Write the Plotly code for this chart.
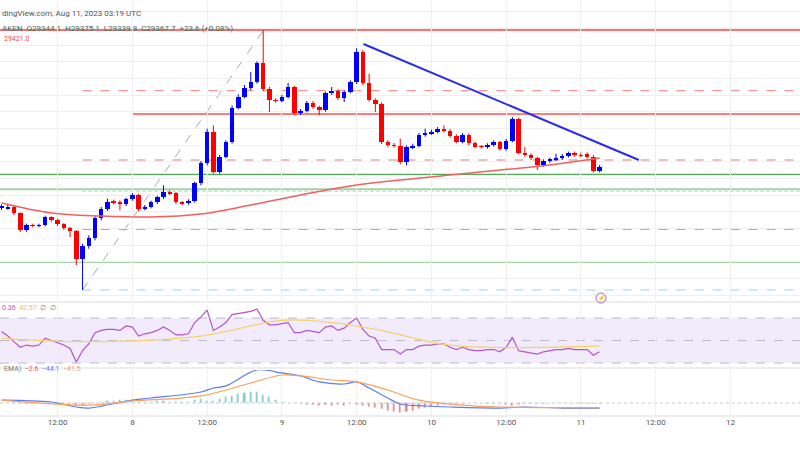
import pandas as pd
import plotly.graph_objects as go

# hourly BTC/USD candles, Aug 7 03:00 -> Aug 11 03:00 UTC
start = "2023-08-07 03:00"
opens = [28886, 28886, 28891, 28871, 28821, 28836, 28833, 28836, 28859, 28851, 28838, 28826, 28818, 28733, 28773, 28796,
         28856, 28883, 28906, 28904, 28899, 28914, 28926, 28884, 28891, 28904, 28919, 28936, 28931, 28904, 28901, 28908,
         28961, 29021, 29114, 28994, 29041, 29084, 29188, 29221, 29246, 29266, 29321, 29243, 29211, 29209, 29221, 29249,
         29171, 29179, 29203, 29189, 29181, 29231, 29238, 29216, 29236, 29264, 29356, 29261, 29211, 29199, 29084, 29076,
         29074, 29026, 29069, 29074, 29106, 29111, 29116, 29123, 29119, 29103, 29086, 29106, 29081, 29071, 29070, 29076,
         29084, 29064, 29089, 29153, 29053, 29046, 29036, 29016, 29028, 29033, 29036, 29044, 29051, 29046, 29049, 29041, 28999]
closes = [28893, 28891, 28871, 28821, 28836, 28833, 28836, 28859, 28851, 28838, 28826, 28818, 28733, 28773, 28796, 28856,
          28883, 28906, 28904, 28899, 28914, 28926, 28884, 28891, 28904, 28919, 28936, 28931, 28904, 28901, 28908, 28961,
          29021, 29114, 28994, 29041, 29084, 29188, 29221, 29246, 29266, 29321, 29243, 29211, 29209, 29221, 29249, 29171,
          29179, 29203, 29189, 29181, 29231, 29238, 29216, 29236, 29264, 29356, 29261, 29211, 29199, 29084, 29076, 29074,
          29026, 29069, 29074, 29106, 29111, 29116, 29123, 29119, 29103, 29086, 29106, 29081, 29071, 29070, 29076, 29084,
          29064, 29089, 29153, 29053, 29046, 29036, 29016, 29028, 29033, 29036, 29044, 29051, 29046, 29044, 29041, 28999, 29011]
highs = [28898, 28896, 28895, 28874, 28840, 28840, 28840, 28864, 28862, 28855, 28842, 28830, 28821, 28780, 28805, 28862,
         28890, 28915, 28912, 28910, 28918, 28932, 28930, 28896, 28909, 28924, 28955, 28940, 28935, 28908, 28913, 28966,
         29028, 29125, 29135, 29046, 29090, 29195, 29228, 29256, 29295, 29327, 29421, 29250, 29216, 29226, 29262, 29254,
         29184, 29208, 29208, 29194, 29236, 29250, 29243, 29241, 29270, 29366, 29361, 29290, 29216, 29204, 29090, 29082,
         29095, 29075, 29080, 29112, 29125, 29122, 29130, 29135, 29124, 29108, 29112, 29111, 29086, 29076, 29081, 29090,
         29089, 29094, 29160, 29158, 29070, 29051, 29041, 29033, 29038, 29050, 29049, 29056, 29056, 29053, 29054, 29046, 29016]
lows = [28881, 28882, 28866, 28815, 28816, 28829, 28829, 28832, 28846, 28833, 28821, 28800, 28716, 28641, 28765, 28790,
        28850, 28878, 28898, 28880, 28893, 28909, 28878, 28880, 28886, 28899, 28914, 28925, 28899, 28896, 28897, 28903,
        28955, 29015, 28990, 28990, 29036, 29080, 29183, 29216, 29240, 29260, 29238, 29175, 29203, 29204, 29216, 29165,
        29166, 29174, 29184, 29165, 29176, 29226, 29211, 29205, 29231, 29259, 29256, 29206, 29175, 29079, 29070, 29068,
        29018, 29015, 29064, 29069, 29101, 29106, 29111, 29114, 29098, 29081, 29081, 29076, 29066, 29065, 29065, 29071,
        29059, 29059, 29084, 29048, 29041, 29031, 29001, 29011, 29023, 29028, 29031, 29039, 29041, 29039, 29036, 28994, 28994]

# 100-hour moving average (read at every 8th candle)
ma_idx = [0, 8, 16, 24, 32, 40, 48, 56, 64, 72, 80, 88, 96]
ma_val = [28902, 28872, 28863, 28860, 28869, 28896, 28926, 28953, 28971, 28986, 29001, 29016, 29037]

rsi = [58, 54, 49, 44, 46, 45, 46, 52, 50, 48, 46, 43, 31, 41, 47, 57, 59, 60, 60, 59, 63, 62, 54, 56, 57, 59, 62, 59,
       55, 55, 56, 66, 71, 77, 59, 62, 66, 73, 74, 75, 76, 78, 68, 64, 64, 65, 66, 57, 57, 59, 58, 57, 62, 63, 59, 61,
       66, 70, 60, 54, 52, 42, 42, 42, 38, 42, 42, 45, 46, 46, 47, 47, 44, 42, 44, 42, 41, 41, 42, 42, 40, 44, 53, 41,
       40, 39, 38, 40, 41, 42, 42, 43, 42, 42, 42, 37, 40]
rsi_ma_idx = [0, 14, 32, 45, 53, 61, 72, 96]
rsi_ma_val = [52, 49, 54, 68, 66, 59, 46, 45]

macd_idx = [0, 8, 12, 14, 21, 24, 32, 34, 36, 41, 45, 48, 51, 55, 57, 59, 62, 64, 68, 72, 80, 84, 90, 96]
macd_val = [26, 9, -35, -44, 26, 44, 97, 132, 150, 290, 264, 238, 185, 167, 185, 132, 44, -9, -26, -35, -44, -35, -44, -44]
sig_idx = [0, 14, 21, 32, 40, 45, 48, 53, 57, 62, 67, 74, 80, 96]
sig_val = [26, -18, 18, 62, 176, 246, 238, 202, 185, 114, 26, -18, -35, -41]
hist = [0, 0, -5, -5, -5, -5, 0, 0, 0, -5, -9, -9, -26, -26, -9, 0, 9, 18, 18, 26, 26, 18, 9, 9, 9, 18, 18, 9, 9, 9, 9,
        26, 35, 18, 18, 35, 53, 62, 79, 88, 97, 97, 70, 53, 26, 9, 0, 0, -9, -18, -18, -26, -18, -26, -18, -26, -9, -18,
        -26, -35, -44, -53, -70, -79, -88, -79, -70, -53, -44, -35, -26, -18, -9, -9, -5, 0, 0, 0, -5, -5, -9, -18, -26,
        -18, -9, -5, -5, -5, 0, 0, 0, 0, 0, -5, -5, -9, -9]

tick_vals = ["2023-08-07 12:00", "2023-08-08", "2023-08-08 12:00", "2023-08-09", "2023-08-09 12:00",
             "2023-08-10", "2023-08-10 12:00", "2023-08-11", "2023-08-11 12:00", "2023-08-12"]
tick_text = ["12:00", "8", "12:00", "9", "12:00", "10", "12:00", "11", "12:00", "12"]

times = pd.date_range(start, periods=len(opens), freq="h")
H, W = 450, 800


def py(px):  # pixel row -> paper y
    return 1 - px / H


fig = go.Figure()

# wicks and bodies drawn separately so the body width can be set
for up, color in [(True, "#0000ff"), (False, "#ff0000")]:
    wx, wy, bx, bb, bh = [], [], [], [], []
    for t, o, h, l, c in zip(times, opens, highs, lows, closes):
        if (c >= o) != up:
            continue
        wx += [t, t, None]
        wy += [l, h, None]
        bx.append(t)
        bb.append(min(o, c))
        bh.append(max(abs(c - o), 2))
    fig.add_trace(go.Scatter(x=wx, y=wy, mode="lines", line=dict(color=color, width=1),
                             xaxis="x", yaxis="y", hoverinfo="skip"))
    fig.add_trace(go.Bar(x=bx, y=bh, base=bb, width=2600000, marker=dict(color=color, line=dict(width=0)),
                         xaxis="x", yaxis="y"))

fig.add_trace(go.Scatter(x=times[ma_idx], y=ma_val, mode="lines", line=dict(color="#f06060", width=1.5, shape="spline"),
                         xaxis="x", yaxis="y"))
fig.add_trace(go.Scatter(x=times, y=rsi, mode="lines", line=dict(color="#b455c8", width=1.2), xaxis="x", yaxis="y2"))
fig.add_trace(go.Scatter(x=times[rsi_ma_idx], y=rsi_ma_val, mode="lines",
                         line=dict(color="#f5d36e", width=1.2, shape="spline"), xaxis="x", yaxis="y2"))
fig.add_trace(go.Bar(x=times, y=hist, width=1200000,
                     marker_color=["#7fcdc3" if v >= 0 else "#f08080" for v in hist], xaxis="x", yaxis="y3"))
fig.add_trace(go.Scatter(x=times[macd_idx], y=macd_val, mode="lines",
                         line=dict(color="#5b7cf5", width=1.2, shape="spline"), xaxis="x", yaxis="y3"))
fig.add_trace(go.Scatter(x=times[sig_idx], y=sig_val, mode="lines",
                         line=dict(color="#f7a15c", width=1.2, shape="spline"), xaxis="x", yaxis="y3"))

far = "2023-08-12 16:00"
shapes = []


def hline(y, color, x0="2023-08-06 12:00", dash="solid", width=1.2):
    shapes.append(dict(type="line", xref="x", yref="y", x0=x0, x1=far, y0=y, y1=y,
                       line=dict(color=color, width=width, dash=dash), layer="below"))


hline(29421, "#ff4040", width=1.5)
hline(29239, "#f08080", x0="2023-08-07 16:00", dash="dash", width=1)
hline(29169, "#ff5050", x0="2023-08-08 00:00", width=1.5)
hline(29031, "#d08080", x0="2023-08-07 16:00", dash="dash", width=1)
hline(28988, "#4caf50")
hline(28943, "#9ed49e", width=2)
hline(28937, "#9fd8e8", x0="2023-08-07 16:00", dash="dot", width=1)
hline(28823, "#f08080", x0="2023-08-07 16:00", dash="dash", width=1)
hline(28726, "#4caf50", width=1.5)
hline(28641, "#9fd0f0", x0="2023-08-07 16:00", dash="dash", width=1)
shapes.append(dict(type="line", xref="x", yref="y", x0="2023-08-07 16:00", y0=28641, x1="2023-08-08 21:06", y1=29421,
                   line=dict(color="#aaaaaa", width=1, dash="dash"), layer="below"))
shapes.append(dict(type="line", xref="x", yref="y", x0="2023-08-09 13:06", y0=29379, x1="2023-08-11 09:18", y1=29031,
                   line=dict(color="#2b2bf0", width=2)))
# RSI band
shapes.append(dict(type="rect", xref="paper", yref="y2", x0=0, x1=1, y0=30, y1=70,
                   fillcolor="rgba(150,90,230,0.12)", line=dict(width=0), layer="below"))
for lv in [30, 50, 70]:
    shapes.append(dict(type="line", xref="paper", yref="y2", x0=0, x1=1, y0=lv, y1=lv,
                       line=dict(color="#bbbbcc", width=1, dash="dash"), layer="below"))
shapes.append(dict(type="line", xref="paper", yref="y3", x0=0, x1=1, y0=0, y1=0,
                   line=dict(color="#cccccc", width=1, dash="dot"), layer="below"))
for px in [302, 368, 416]:
    shapes.append(dict(type="line", xref="paper", yref="paper", x0=0, x1=1, y0=py(px), y1=py(px),
                       line=dict(color="#dddddd", width=1)))
shapes.append(dict(type="circle", xref="paper", yref="paper", x0=596 / W, x1=606 / W, y0=py(303), y1=py(293),
                   line=dict(color="#9c6bd0", width=1)))

ann = [
    dict(x=0, y=py(7), text="dingView.com, Aug 11, 2023 03:19 UTC", font=dict(size=8, color="#555")),
    dict(x=0, y=py(22), text="AKEN  O29344.1  H29375.1  L29339.8  C29367.7  +23.6 (+0.08%)",
         font=dict(size=8, color="#4a6a5a")),
    dict(x=2 / W, y=py(33), text="29421.0", font=dict(size=7, color="#f05050")),
    dict(x=0, y=py(314), text="<span style='color:#b455c8'>0.36</span>  <span style='color:#e8c050'>42.57</span>"
                              "  <span style='color:#888'>∅  ∅</span>", font=dict(size=7)),
    dict(x=2 / W, y=py(375), text="<span style='color:#777'>EMA)</span>  <span style='color:#f05050'>−2.6</span>"
                                  "  <span style='color:#5b7cf5'>−44.1</span>  <span style='color:#f7a15c'>−41.5</span>",
         font=dict(size=7)),
    dict(x=601 / W, y=py(298), text="⚡", font=dict(size=6, color="#9c6bd0"), xanchor="center"),
]
for a in ann:
    a.update(xref="paper", yref="paper", showarrow=False)
    a.setdefault("xanchor", "left")

fig.update_layout(
    width=W, height=H, margin=dict(l=0, r=0, t=0, b=0),
    paper_bgcolor="white", plot_bgcolor="white", showlegend=False,
    font=dict(family="Roboto, Arial", size=8, color="#555"),
    shapes=shapes, annotations=ann, bargap=0, barmode="overlay",
    xaxis=dict(domain=[0, 1], anchor="y3", range=["2023-08-07 02:45", "2023-08-12 11:10"], tickvals=tick_vals,
               ticktext=tick_text, showgrid=True, gridcolor="#efefef", ticks="", showline=False,
               tickfont=dict(size=8, color="#555")),
    yaxis=dict(domain=[py(300), 1], range=[28611, 29511], tick0=29376, dtick=50, showgrid=True,
               gridcolor="#efefef", showticklabels=False, zeroline=False),
    yaxis2=dict(domain=[py(368), py(305)], range=[25.6, 81.6], showgrid=False, showticklabels=False, zeroline=False),
    yaxis3=dict(domain=[py(416), py(370)], range=[-114, 290], showgrid=False, showticklabels=False, zeroline=False),
)
fig.write_html("out.html", config=dict(displayModeBar=False), post_script="document.body.style.margin='0';")
